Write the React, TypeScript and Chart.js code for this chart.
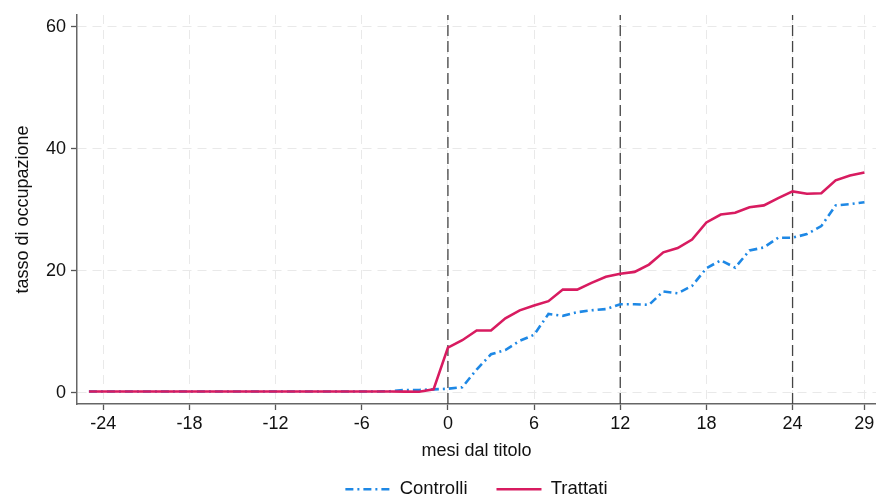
import React, { useEffect, useRef } from 'react';
import { Chart, registerables } from 'chart.js';

Chart.register(...registerables);

const months = [
  -25, -24, -23, -22, -21, -20, -19, -18, -17, -16, -15, -14, -13, -12, -11, -10,
  -9, -8, -7, -6, -5, -4, -3, -2, -1, 0, 1, 2, 3, 4, 5, 6, 7, 8, 9, 10, 11, 12,
  13, 14, 15, 16, 17, 18, 19, 20, 21, 22, 23, 24, 25, 26, 27, 28, 29,
];

const controlli = [
  0.2, 0.2, 0.2, 0.2, 0.2, 0.2, 0.2, 0.2, 0.2, 0.2, 0.2, 0.2, 0.2, 0.2, 0.2, 0.2,
  0.2, 0.2, 0.2, 0.2, 0.2, 0.25, 0.45, 0.45, 0.55, 0.65, 0.9, 3.8, 6.3, 7.0, 8.5,
  9.5, 12.9, 12.6, 13.2, 13.5, 13.7, 14.5, 14.5, 14.4, 16.6, 16.3, 17.5, 20.4, 21.7,
  20.5, 23.3, 23.8, 25.4, 25.4, 26.0, 27.3, 30.7, 30.9, 31.2,
];

const trattati = [
  0.2, 0.2, 0.2, 0.2, 0.2, 0.2, 0.2, 0.2, 0.2, 0.2, 0.2, 0.2, 0.2, 0.2, 0.2, 0.2,
  0.2, 0.2, 0.2, 0.2, 0.2, 0.2, 0.18, 0.16, 0.55, 7.4, 8.6, 10.2, 10.2, 12.2, 13.5,
  14.3, 15.0, 16.9, 16.9, 18.0, 19.0, 19.5, 19.8, 21.0, 23.0, 23.7, 25.1, 27.9, 29.2,
  29.5, 30.4, 30.7, 31.9, 33.0, 32.6, 32.7, 34.8, 35.6, 36.1,
];

const xTickValues = [-24, -18, -12, -6, 0, 6, 12, 18, 24, 29];
const yTickValues = [0, 20, 40, 60];
const refLineMonths = [0, 12, 24];

const X_MIN = -25.83;
const X_MAX = 29.81;
const Y_MIN = -1.85;
const Y_MAX = 61.9;

const FONT = '"Liberation Sans", Arial, Helvetica, sans-serif';
const BLUE = '#1e88e5';
const RED = '#d81b60';
const BLUE_DASH = [8, 4, 2, 4];

export default function App() {
  const ref = useRef<HTMLCanvasElement | null>(null);

  useEffect(() => {
    document.body.style.margin = '0';
    const canvas = ref.current;
    if (!canvas) return;

    const refDatasets = refLineMonths.map((m) => ({
      label: '',
      data: [
        { x: m, y: Y_MIN },
        { x: m, y: Y_MAX },
      ],
      borderColor: '#444444',
      borderWidth: 1.3,
      borderDash: [11, 5],
      pointRadius: 0,
      fill: false,
      order: 3,
    }));

    const chart = new Chart(canvas, {
      type: 'line',
      data: {
        datasets: [
          {
            label: 'Controlli',
            data: months.map((m, i) => ({ x: m, y: controlli[i] })),
            borderColor: BLUE,
            backgroundColor: BLUE,
            borderWidth: 2.6,
            borderDash: BLUE_DASH,
            pointRadius: 0,
            tension: 0,
            fill: false,
            order: 2,
          },
          {
            label: 'Trattati',
            data: months.map((m, i) => ({ x: m, y: trattati[i] })),
            borderColor: RED,
            backgroundColor: RED,
            borderWidth: 2.6,
            pointRadius: 0,
            tension: 0,
            fill: false,
            order: 1,
          },
          ...refDatasets,
        ] as any,
      },
      options: {
        responsive: false,
        animation: false,
        layout: { padding: { top: 15, right: 0, left: 0, bottom: 0 } },
        plugins: {
          tooltip: { enabled: false },
          legend: {
            position: 'bottom',
            fullSize: false,
            maxHeight: 46,
            labels: {
              usePointStyle: true,
              pointStyle: 'line',
              pointStyleWidth: 45,
              padding: 29,
              color: '#111',
              font: { family: FONT, size: 18.5 },
              generateLabels: (c: any) => {
                const items = (Chart.defaults.plugins.legend.labels as any).generateLabels(c);
                return items
                  .filter((it: any) => it.datasetIndex < 2)
                  .sort((a: any, b: any) => a.datasetIndex - b.datasetIndex)
                  .map((it: any) => {
                    const ds = c.data.datasets[it.datasetIndex];
                    return {
                      ...it,
                      lineDash: ds.borderDash || [],
                      lineWidth: 2.6,
                      strokeStyle: ds.borderColor,
                      pointStyle: 'line',
                    };
                  });
              },
            },
          } as any,
        },
        scales: {
          x: {
            type: 'linear',
            min: X_MIN,
            max: X_MAX,
            afterBuildTicks: (scale: any) => {
              scale.ticks = xTickValues.map((v) => ({ value: v }));
            },
            afterFit: (scale: any) => {
              scale.height = 47;
              scale.paddingLeft = 0;
              scale.paddingRight = 0;
            },
            ticks: {
              autoSkip: false,
              maxRotation: 0,
              minRotation: 0,
              padding: 3,
              color: '#111',
              font: { family: FONT, size: 18 },
            },
            grid: {
              color: '#e9e9e9',
              lineWidth: 1,
              tickLength: 6,
              tickColor: '#555',
              tickWidth: 1.3,
            },
            border: { display: true, color: '#666', width: 1.5, dash: [9, 6] },
            title: {
              display: true,
              text: 'mesi dal titolo',
              color: '#111',
              font: { family: FONT, size: 18 },
              padding: { top: 0, bottom: -11 },
            },
          },
          y: {
            type: 'linear',
            min: Y_MIN,
            max: Y_MAX,
            afterBuildTicks: (scale: any) => {
              scale.ticks = yTickValues.map((v) => ({ value: v }));
            },
            afterFit: (scale: any) => {
              scale.width = 77;
              scale.paddingTop = 0;
              scale.paddingBottom = 0;
            },
            ticks: {
              padding: 5,
              color: '#111',
              font: { family: FONT, size: 18 },
            },
            grid: {
              color: '#e9e9e9',
              lineWidth: 1,
              tickLength: 6,
              tickColor: '#555',
              tickWidth: 1.3,
            },
            border: { display: true, color: '#666', width: 1.5, dash: [9, 6] },
            title: {
              display: true,
              text: 'tasso di occupazione',
              color: '#111',
              font: { family: FONT, size: 18 },
              padding: { top: 12, bottom: 0 },
            },
          },
        },
      } as any,
    });

    return () => chart.destroy();
  }, []);

  return (
    <div style={{ width: 876, height: 497 }}>
      <canvas ref={ref} width={876} height={497} style={{ display: 'block' }} />
    </div>
  );
}
